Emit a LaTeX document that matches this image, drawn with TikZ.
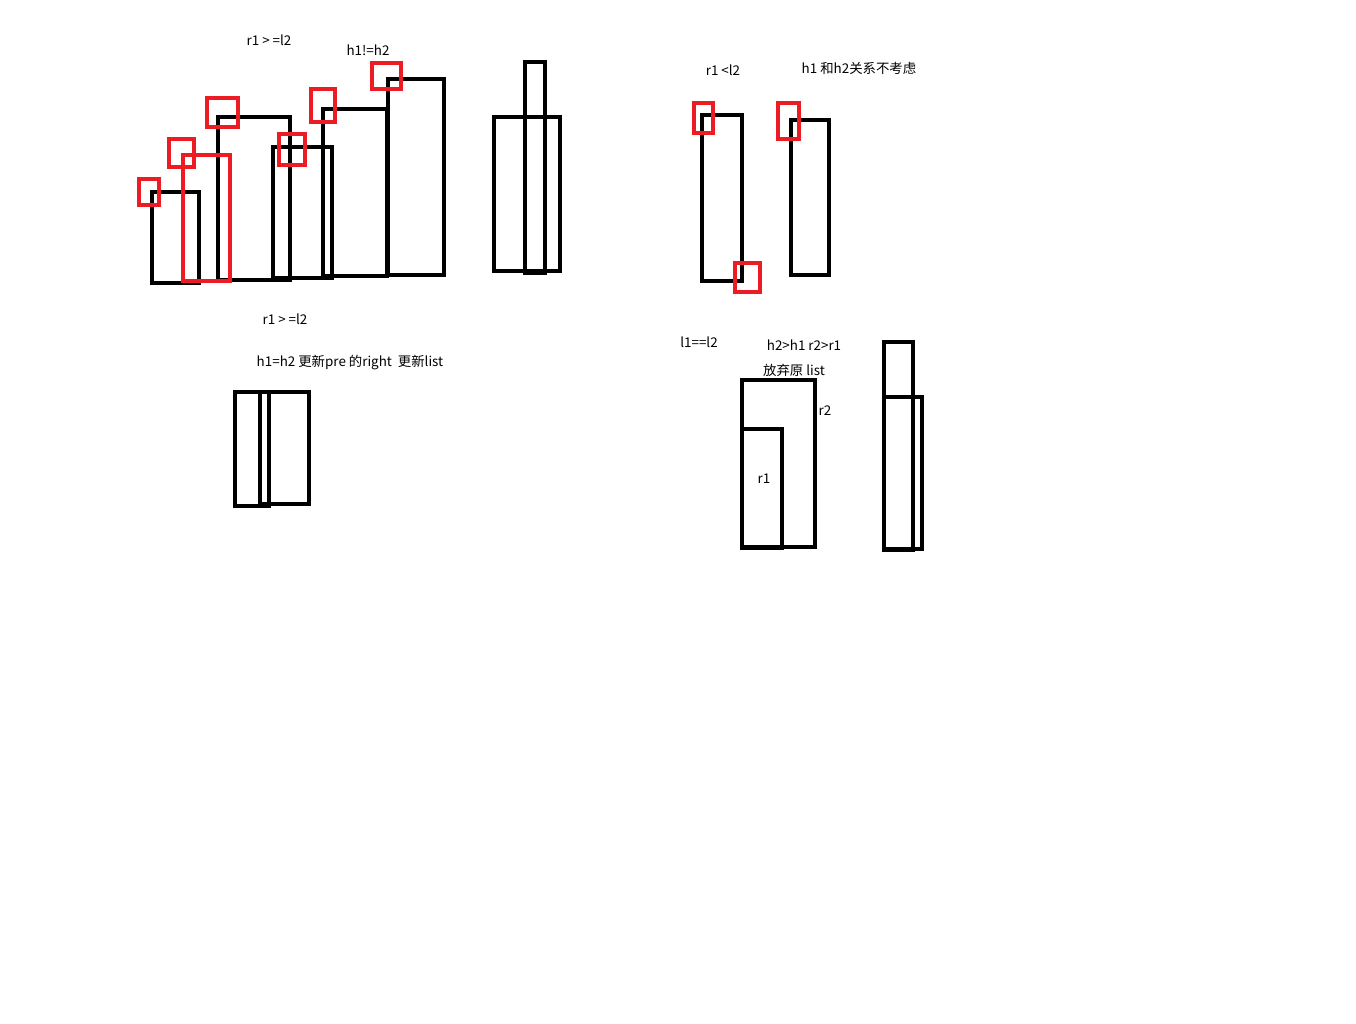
\documentclass[tikz,border=0pt]{standalone}
\usepackage{fontspec}
\setmainfont{Noto Sans CJK SC}
\begin{document}
\begin{tikzpicture}[x=1pt,y=-1pt,
  blk/.style={draw=black,line width=4.7pt},
  redbox/.style={draw=pr,line width=4.2pt},
  lbl/.style={font=\fontsize{13.4}{15}\selectfont,inner sep=0pt,anchor=center}]
\definecolor{pr}{RGB}{237,28,36}
\useasboundingbox (0,0) rectangle (1356,1024);
% group 1
\draw[blk] (152,192) rectangle (199,283);
\draw[blk] (218,117) rectangle (290,280);
\draw[blk] (273,147) rectangle (332,278);
\draw[blk] (323,109) rectangle (387,276);
\draw[blk] (388,79) rectangle (444,275);
\draw[redbox] (183,155) rectangle (230,281);
\draw[redbox] (139,179) rectangle (159,205);
\draw[redbox] (169,139) rectangle (194,167);
\draw[redbox] (207,98) rectangle (238,127);
\draw[redbox] (279,134) rectangle (305,165);
\draw[redbox] (311,89) rectangle (335,122);
\draw[redbox] (372,63) rectangle (401,89);
\node[lbl] (t1) at (269,40) {r1 > =l2};
\node[lbl] (t2) at (368,50) {h1!=h2};
% group 2
\draw[blk] (494,117) rectangle (560,271);
\draw[blk] (525,62) rectangle (545,273);
% group 3
\draw[blk] (702,115) rectangle (742,281);
\draw[blk] (791,120) rectangle (829,275);
\draw[redbox] (694,103) rectangle (713,133);
\draw[redbox] (778,103) rectangle (799,139);
\draw[redbox] (735,263) rectangle (760,292);
\node[lbl] (t3) at (723,70) {r1 <l2};
\node[lbl] (t4) at (859,68) {h1 和h2关系不考虑};
% group 4
\draw[blk] (235,392) rectangle (269,506);
\draw[blk] (260,392) rectangle (309,504);
\node[lbl] (t5) at (285,319) {r1 > =l2};
\node[lbl] (t6) at (350,363) {h1=h2 更新pre 的right\ \ 更新list};
% group 5
\draw[blk] (742,380) rectangle (815,547);
\draw[blk] (742,429) rectangle (782,548);
\draw[blk] (884,342) rectangle (913,550);
\draw[blk] (884,397) rectangle (922,549);
\node[lbl] (t7) at (699,342) {l1==l2};
\node[lbl] (t8) at (804,345) {h2>h1 r2>r1};
\node[lbl] (t9) at (794,370) {放弃原 list};
\node[lbl] (t10) at (825,411) {r2};
\node[lbl] (t11) at (764,479) {r1};
\end{tikzpicture}
\end{document}
